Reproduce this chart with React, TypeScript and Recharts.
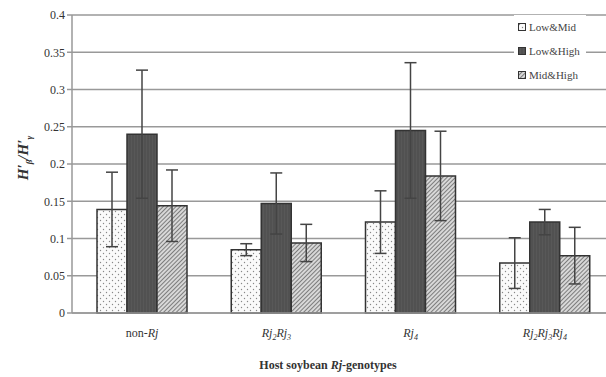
import { BarChart, Bar, XAxis, YAxis, CartesianGrid, Legend, ErrorBar, Label } from "recharts"

const categories = ["non-Rj", "Rj2Rj3", "Rj4", "Rj2Rj3Rj4"]
const lowMid = [0.139, 0.085, 0.122, 0.067]
const lowMidErr = [0.05, 0.008, 0.042, 0.034]
const lowHigh = [0.24, 0.147, 0.245, 0.122]
const lowHighErr = [0.086, 0.041, 0.091, 0.017]
const midHigh = [0.144, 0.094, 0.184, 0.077]
const midHighErr = [0.048, 0.025, 0.06, 0.038]
const yTicks = [0, 0.05, 0.1, 0.15, 0.2, 0.25, 0.3, 0.35, 0.4]

const data = categories.map((c, i) => ({
    name: c,
    lowMid: lowMid[i], lowMidErr: lowMidErr[i],
    lowHigh: lowHigh[i], lowHighErr: lowHighErr[i],
    midHigh: midHigh[i], midHighErr: midHighErr[i],
}))

const font = "'Liberation Serif', 'DejaVu Serif', serif"

// "Rj2Rj3" -> italic Rj with subscript digits
function genotype(label: string) {
    const parts: any[] = []
    const prefix = label.startsWith("non-") ? "non-" : ""
    if (prefix) parts.push(<tspan key="p">{prefix}</tspan>)
    const rest = label.slice(prefix.length)
    const re = /Rj(\d?)/g
    let m
    let k = 0
    let lowered = false
    while ((m = re.exec(rest)) !== null) {
        parts.push(<tspan key={"r" + k} fontStyle="italic" dy={lowered ? -3 : 0}>Rj</tspan>)
        lowered = false
        if (m[1]) {
            parts.push(<tspan key={"s" + k} fontStyle="italic" fontSize={8} dy={3}>{m[1]}</tspan>)
            lowered = true
        }
        k++
    }
    return parts
}

function XTick(props: any) {
    const { x, y, payload } = props
    return (
        <text x={x} y={y + 16} textAnchor="middle" fontFamily={font} fontSize={12} fill="#333">
            {genotype(payload.value)}
        </text>
    )
}

const series = [
    { key: "lowMid", name: "Low&Mid", fill: "url(#dots)" },
    { key: "lowHigh", name: "Low&High", fill: "url(#dark)" },
    { key: "midHigh", name: "Mid&High", fill: "url(#hatch)" },
]

function LegendBox() {
    return (
        <div style={{ background: "#fff", padding: "0 4px", fontFamily: font, fontSize: 11, color: "#444" }}>
            {series.map(s => (
                <div key={s.key} style={{ display: "flex", alignItems: "center", height: 24 }}>
                    <svg width={9} height={9} style={{ marginRight: 2 }}>
                        <rect x={0.5} y={0.5} width={7} height={7} fill={s.fill} stroke="#333" strokeWidth={1} />
                    </svg>
                    {s.name}
                </div>
            ))}
        </div>
    )
}

export default function App() {
    return (
        <div style={{ position: "absolute", left: 0, top: 0, width: 606, height: 377, overflow: "hidden", background: "#fff" }}>
            <BarChart
                width={612}
                height={377}
                data={data}
                margin={{ top: 15, right: 0, left: 20, bottom: 34 }}
                barGap={0}
                barSize={30}
            >
                <defs>
                    <pattern id="dots" width="6" height="6" patternUnits="userSpaceOnUse">
                        <rect width="6" height="6" fill="#fafafa" />
                        <circle cx="1.5" cy="1.5" r="0.7" fill="#888" />
                        <circle cx="4.5" cy="4.5" r="0.7" fill="#888" />
                    </pattern>
                    <pattern id="dark" width="3" height="3" patternUnits="userSpaceOnUse">
                        <rect width="3" height="3" fill="#585858" />
                        <line x1="1" y1="0" x2="1" y2="3" stroke="#4a4a4a" strokeWidth="1" />
                    </pattern>
                    <pattern id="hatch" width="3" height="3" patternUnits="userSpaceOnUse" patternTransform="rotate(45)">
                        <rect width="3" height="3" fill="#d8d8d8" />
                        <line x1="0" y1="0" x2="0" y2="3" stroke="#555" strokeWidth="1.4" />
                    </pattern>
                </defs>
                <CartesianGrid vertical={false} stroke="#999" strokeWidth={1.5} />
                <XAxis
                    dataKey="name"
                    tick={<XTick />}
                    tickLine={false}
                    axisLine={{ stroke: "#999", strokeWidth: 1.5 }}
                    height={30}
                    padding={{ left: 3, right: 0 }}
                >
                    <Label
                        content={(p: any) => {
                            const vb = p.viewBox
                            return (
                                <text x={vb.x + vb.width / 2 - 14} y={vb.y + vb.height + 26} textAnchor="middle"
                                    fontFamily={font} fontSize={12} fontWeight="bold" fill="#333">
                                    Host soybean <tspan fontStyle="italic">Rj</tspan>-genotypes
                                </text>
                            )
                        }}
                    />
                </XAxis>
                <YAxis
                    domain={[0, 0.4]}
                    ticks={yTicks}
                    interval={0}
                    width={52}
                    tick={{ fontSize: 12, fill: "#333", fontFamily: font }}
                    tickFormatter={(v: number) => String(v)}
                    tickLine={{ stroke: "#999", strokeWidth: 1.5 }}
                    tickSize={5}
                    axisLine={{ stroke: "#999", strokeWidth: 1.5 }}
                >
                    <Label
                        content={(p: any) => {
                            const vb = p.viewBox
                            const cx = 28
                            const cy = vb.y + vb.height / 2 - 6
                            return (
                                <text x={cx} y={cy} transform={`rotate(-90, ${cx}, ${cy})`} textAnchor="middle"
                                    fontFamily={font} fontSize={15} fontWeight="bold" fontStyle="italic" fill="#333">
                                    H′<tspan fontSize={9} dy={4}>β</tspan><tspan dy={-4}>/H′</tspan><tspan fontSize={9} dy={4}>γ</tspan>
                                </text>
                            )
                        }}
                    />
                </YAxis>
                <Legend
                    layout="horizontal"
                    align="center"
                    verticalAlign="middle"
                    content={<LegendBox />}
                    wrapperStyle={{ top: 15, left: 514, width: 72, height: 72 }}
                />
                {series.map(s => (
                    <Bar key={s.key} dataKey={s.key} name={s.name} fill={s.fill} stroke="#333" strokeWidth={1.5} isAnimationActive={false}>
                        <ErrorBar dataKey={s.key + "Err"} width={6} stroke="#444" strokeWidth={1.5} />
                    </Bar>
                ))}
            </BarChart>
        </div>
    )
}
